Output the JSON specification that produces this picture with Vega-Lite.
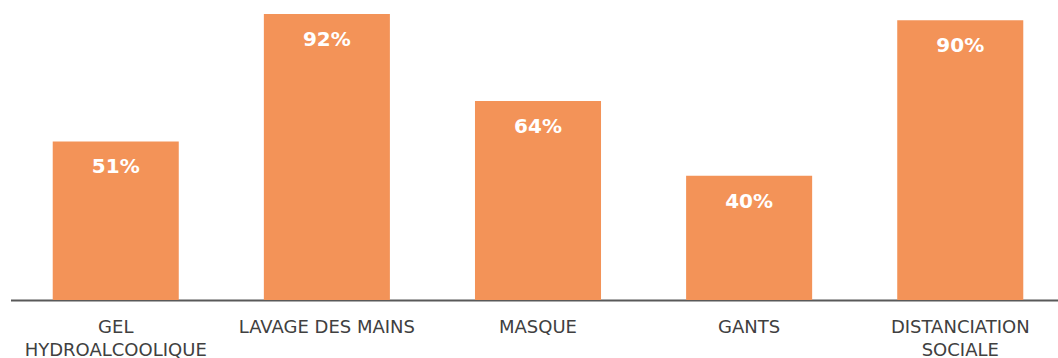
{
  "$schema": "https://vega.github.io/schema/vega-lite/v6.json",
  "autosize": {"type": "none"},
  "padding": {"left": 10.5, "top": 0, "right": 0, "bottom": 58},
  "width": 1055,
  "height": 300,
  "background": "white",
  "data": {"values": [
    {"cat": "GEL|HYDROALCOOLIQUE", "v": 51, "lbl": "51%"},
    {"cat": "LAVAGE DES MAINS", "v": 92, "lbl": "92%"},
    {"cat": "MASQUE", "v": 64, "lbl": "64%"},
    {"cat": "GANTS", "v": 40, "lbl": "40%"},
    {"cat": "DISTANCIATION|SOCIALE", "v": 90, "lbl": "90%"}
  ]},
  "encoding": {
    "x": {"field": "cat", "type": "nominal", "sort": null,
      "scale": {"paddingInner": 0.403, "paddingOuter": 0.2},
      "axis": {"title": null, "labelAngle": 0, "ticks": false, "domainColor": "#595959", "domainWidth": 2,
        "labelFont": "DejaVu Sans", "labelFontSize": 18, "labelColor": "#404040", "labelPadding": 27,
        "labelLimit": 400, "labelOverlap": false,
        "labelExpr": "split(datum.label, '|')", "labelLineHeight": 23, "labelBaseline": "middle"}},
    "y": {"field": "v", "type": "quantitative", "scale": {"domain": [0, 96.5], "nice": false}, "axis": null}
  },
  "layer": [
    {"mark": {"type": "bar", "color": "#F39358"}},
    {"mark": {"type": "text", "color": "white", "font": "DejaVu Sans", "fontWeight": "bold", "fontSize": 20, "dy": 26},
     "encoding": {"text": {"field": "lbl"}}}
  ],
  "config": {"view": {"stroke": null}}
}
